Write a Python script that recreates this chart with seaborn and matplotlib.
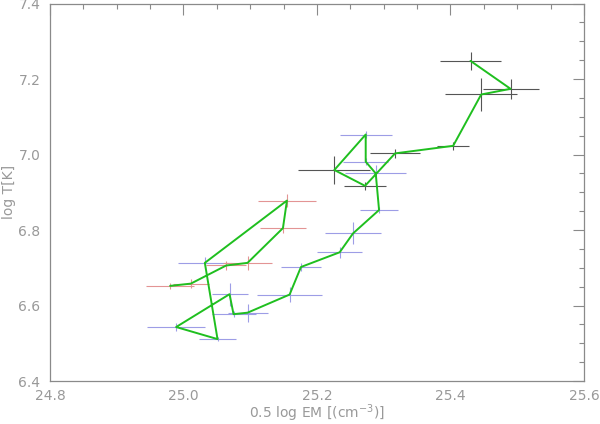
import numpy as np
import pandas as pd
import matplotlib
matplotlib.use("Agg")
import matplotlib.pyplot as plt
import seaborn as sns
from matplotlib.ticker import MultipleLocator

# Path of points in time order (0.5 log EM, log T)
log_em = [24.980, 25.011, 25.064, 25.096, 25.149, 25.155, 25.032, 25.051, 24.989,
          25.069, 25.075, 25.096, 25.159, 25.176, 25.234, 25.254, 25.293, 25.288,
          25.273, 25.273, 25.226, 25.272, 25.317, 25.404, 25.446, 25.490, 25.430]
log_t = [6.652, 6.658, 6.706, 6.713, 6.805, 6.878, 6.713, 6.511, 6.543,
         6.630, 6.577, 6.581, 6.629, 6.702, 6.741, 6.791, 6.853, 6.950,
         6.981, 7.053, 6.959, 6.917, 7.003, 7.023, 7.159, 7.174, 7.248]
em_err = [0.036, 0.027, 0.030, 0.037, 0.034, 0.043, 0.040, 0.028, 0.043,
          0.027, 0.033, 0.030, 0.049, 0.030, 0.034, 0.042, 0.028, 0.046,
          0.034, 0.039, 0.054, 0.031, 0.037, 0.024, 0.054, 0.042, 0.045]
t_err = [0.008, 0.011, 0.011, 0.019, 0.013, 0.018, 0.016, 0.005, 0.011,
         0.030, 0.008, 0.024, 0.021, 0.010, 0.015, 0.029, 0.008, 0.021,
         0.010, 0.010, 0.037, 0.010, 0.012, 0.010, 0.045, 0.026, 0.024]
group = ['r', 'r', 'r', 'r', 'r', 'r', 'b', 'b', 'b',
         'b', 'b', 'b', 'b', 'b', 'b', 'b', 'b', 'b',
         'b', 'b', 'k', 'k', 'k', 'k', 'k', 'k', 'k']

err_colors = {'r': '#e39494', 'b': '#9d9de6', 'k': '#555555'}
df = pd.DataFrame({'em': log_em, 'logt': log_t, 'xe': em_err, 'ye': t_err, 'g': group})

sns.set_style('white')
plt.rcParams['font.family'] = ['DejaVu Sans']
fig = plt.figure(figsize=(6, 4.24), dpi=100)
ax = fig.add_axes([0.0833, 0.1014, 0.89, 0.8903])

# error bars, coloured by group
for g, sub in df.groupby('g'):
    ax.errorbar(sub['em'], sub['logt'], xerr=sub['xe'], yerr=sub['ye'],
                fmt='none', ecolor=err_colors[g], elinewidth=0.8, capsize=0, zorder=2)

# green path joining the points
sns.lineplot(data=df, x='em', y='logt', sort=False, estimator=None,
             color='#1fbf1f', linewidth=1.4, ax=ax, zorder=3)

ax.set_xlim(24.8, 25.6)
ax.set_ylim(6.4, 7.4)
ax.xaxis.set_major_locator(MultipleLocator(0.2))
ax.xaxis.set_minor_locator(MultipleLocator(0.05))
ax.yaxis.set_major_locator(MultipleLocator(0.2))
ax.yaxis.set_minor_locator(MultipleLocator(0.05))
ax.xaxis.set_major_formatter(matplotlib.ticker.FormatStrFormatter('%.1f'))
ax.yaxis.set_major_formatter(matplotlib.ticker.FormatStrFormatter('%.1f'))

gray = '#8a8a8a'
for s in ax.spines.values():
    s.set_color(gray)
    s.set_linewidth(0.9)
ax.tick_params(which='both', direction='in', top=True, right=True, colors=gray,
               labelcolor='#999999', labelsize=10, width=0.8)
ax.tick_params(which='major', length=8, pad=7)
ax.tick_params(axis='x', which='major', pad=5.5)
ax.tick_params(which='minor', length=3.6)

ax.set_xlabel('0.5 log EM [(cm$^{-3}$)]', color='#999999', fontsize=10)
ax.set_ylabel('log T[K]', color='#999999', fontsize=10)
ax.xaxis.set_label_coords(0.5, -0.056)
ax.yaxis.set_label_coords(-0.064, 0.5)

fig.savefig('out.png', dpi=100)
